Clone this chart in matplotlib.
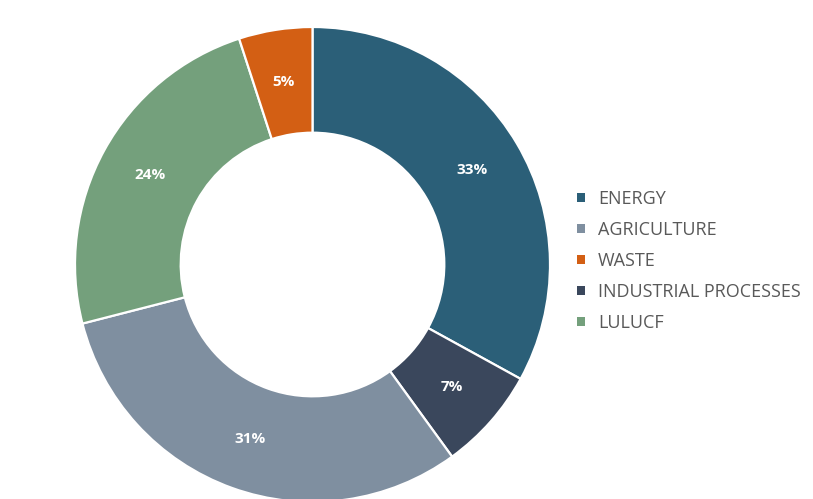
import matplotlib
matplotlib.use("Agg")
import matplotlib.pyplot as plt
from matplotlib.patches import Patch

# Data (clockwise from top)
pie_labels = ["ENERGY", "INDUSTRIAL PROCESSES", "AGRICULTURE", "LULUCF", "WASTE"]
pie_values = [33, 7, 31, 24, 5]
pie_colors = ["#2b5f78", "#3a475c", "#7f8fa0", "#74a07c", "#d35f14"]

legend_order = ["ENERGY", "AGRICULTURE", "WASTE", "INDUSTRIAL PROCESSES", "LULUCF"]

W, H = 813, 499
fig = plt.figure(figsize=(W / 100, H / 100), dpi=100)
fig.patch.set_facecolor("white")

cx, cy, r = 312.5, 264.5, 237.5
ax = fig.add_axes([(cx - r) / W, (H - cy - r) / H, 2 * r / W, 2 * r / H])

wedges, texts, autotexts = ax.pie(
    pie_values,
    colors=pie_colors,
    startangle=90,
    counterclock=False,
    radius=1.0,
    autopct=lambda p: f"{p:.0f}%",
    pctdistance=0.78,
    wedgeprops=dict(width=0.445, edgecolor="white", linewidth=1.6),
    textprops=dict(color="white", fontsize=11, fontweight="bold", family="Open Sans"),
)
for w in wedges:
    w.set_clip_on(False)
ax.set_xlim(-1, 1)
ax.set_ylim(-1, 1)
ax.set_aspect("equal")
ax.axis("off")

color_map = dict(zip(pie_labels, pie_colors))
handles = [Patch(facecolor=color_map[l], edgecolor="none") for l in legend_order]
leg = fig.legend(
    handles, legend_order,
    loc="upper left",
    bbox_to_anchor=(577 / W, 1 - 190 / H),
    frameon=False,
    handlelength=0.42, handleheight=0.42, handletextpad=0.74,
    labelspacing=0.72,
    prop=dict(family="Open Sans", size=13),
    borderaxespad=0, borderpad=0,
)
for t in leg.get_texts():
    t.set_color("#595959")

fig.savefig("out.png", dpi=100, facecolor="white")
